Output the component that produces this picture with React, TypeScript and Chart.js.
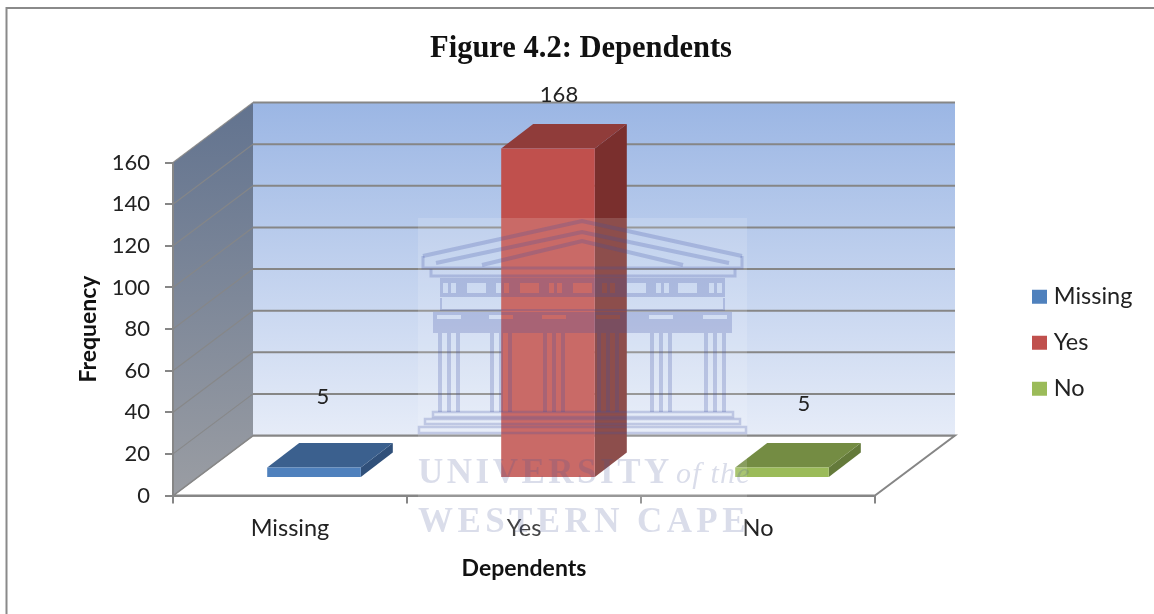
import React, { useEffect, useRef } from "react";
import { Chart, registerables } from "chart.js";

Chart.register(...registerables);

const categories = ["Missing", "Yes", "No"];
const frequencies = [5, 168, 5];
const yTicksMax = 160;
const yTickStep = 20;
const frontColors = ["#4F81BD", "#C0504D", "#9BBB59"];
const topColors = ["#3B608E", "#903C3A", "#748C43"];
const sideColors = ["#30507A", "#7A2F2D", "#647A3A"];
const chartTitle = "Figure 4.2: Dependents";
const xTitle = "Dependents";
const yTitle = "Frequency";

const GRAY = "#868686";
const WALL = { dx: 80, dy: -60 };
const BAR_SHIFT = { x: 24, y: -17.5 };
const BAR_DEPTH = { x: 32, y: -24.5 };
const TOP_CLIP = 3.5;
const LABEL_NUDGE = [
  { x: 9, y: 397 },
  { x: 11, y: 95 },
  { x: 22, y: 404 },
];

const poly = (ctx: CanvasRenderingContext2D, pts: number[][], fill?: any, stroke?: string, lw = 1) => {
  ctx.beginPath();
  pts.forEach((p, i) => (i ? ctx.lineTo(p[0], p[1]) : ctx.moveTo(p[0], p[1])));
  ctx.closePath();
  if (fill) {
    ctx.fillStyle = fill;
    ctx.fill();
  }
  if (stroke) {
    ctx.strokeStyle = stroke;
    ctx.lineWidth = lw;
    ctx.stroke();
  }
};

const scenePlugin = {
  id: "scene",
  beforeLayout(chart: any) {
    const lg = chart.legend;
    if (lg && !lg.__fixed) {
      lg.__fixed = true;
      const fit = lg.fit.bind(lg);
      lg.fit = () => {
        fit();
        lg.width = 279;
      };
    }
  },
  afterLayout(chart: any) {
    const lg = chart.legend;
    lg.left = 1014.5;
    lg.right = 1154;
    lg.top = 262.5;
    lg.bottom = 440;
    const tb = chart.titleBlock;
    tb.left += 8;
    tb.top += 2;
    tb.bottom += 2;
  },
  beforeDraw(chart: any) {
    const { ctx, chartArea: a, scales } = chart;
    const y = scales.y;
    ctx.save();
    // image frame
    ctx.fillStyle = "#fff";
    ctx.fillRect(0, 0, chart.width, chart.height);
    ctx.strokeStyle = "#8a8a8a";
    ctx.lineWidth = 2;
    ctx.beginPath();
    ctx.moveTo(6.5, chart.height);
    ctx.lineTo(6.5, 8);
    ctx.lineTo(chart.width, 8);
    ctx.stroke();

    const L = a.left, R = a.right, T = a.top, B = a.bottom;
    const { dx, dy } = WALL;
    // floor
    poly(ctx, [[L, B], [L + dx, B + dy], [R + dx, B + dy], [R, B]], "#fff", GRAY, 2);
    // back wall
    const g = ctx.createLinearGradient(0, T + dy, 0, B + dy);
    g.addColorStop(0, "#9BB6E4");
    g.addColorStop(1, "#E6ECF8");
    ctx.fillStyle = g;
    ctx.fillRect(L + dx, T + dy, R - L, B - T);
    // side wall
    const s = ctx.createLinearGradient(0, T + dy, 0, B);
    s.addColorStop(0, "#62738F");
    s.addColorStop(1, "#9A9DA3");
    poly(ctx, [[L, T], [L + dx, T + dy], [L + dx, B + dy], [L, B]], s);
    // grid lines through the value scale
    y.ticks.forEach((t: any) => {
      const py = y.getPixelForValue(t.value);
      ctx.strokeStyle = "rgba(134,134,134,0.9)";
      ctx.lineWidth = 1.2;
      ctx.beginPath();
      ctx.moveTo(L, py);
      ctx.lineTo(L + dx, py + dy);
      ctx.stroke();
      ctx.strokeStyle = GRAY;
      ctx.lineWidth = 2;
      ctx.beginPath();
      ctx.moveTo(L + dx, py + dy);
      ctx.lineTo(R + dx, py + dy);
      ctx.stroke();
    });
    ctx.restore();
  },
  beforeDatasetDraw(chart: any, args: any) {
    const { ctx, chartArea: a } = chart;
    const meta = args.meta;
    ctx.save();
    const topLimit = a.top + TOP_CLIP;
    meta.data.forEach((el: any, i: number) => {
      const p = el.getProps(["x", "y", "base", "width"], true);
      const x0 = p.x - p.width / 2 + BAR_SHIFT.x;
      const x1 = p.x + p.width / 2 + BAR_SHIFT.x;
      const yt = Math.max(p.y, topLimit) + BAR_SHIFT.y;
      const yb = p.base + BAR_SHIFT.y;
      const d = BAR_DEPTH;
      poly(ctx, [[x1, yt], [x1 + d.x, yt + d.y], [x1 + d.x, yb + d.y], [x1, yb]], sideColors[i]);
      poly(ctx, [[x0, yt], [x0 + d.x, yt + d.y], [x1 + d.x, yt + d.y], [x1, yt]], topColors[i]);
    });
    ctx.restore();
    ctx.save();
    ctx.translate(BAR_SHIFT.x, BAR_SHIFT.y);
  },
  afterDatasetDraw(chart: any) {
    chart.ctx.restore();
  },
  afterDraw(chart: any) {
    const { ctx } = chart;
    const meta = chart.getDatasetMeta(0);
    ctx.save();
    // value labels
    ctx.font = "22px Lato";
    ctx.fillStyle = "#222";
    ctx.textAlign = "center";
    ctx.textBaseline = "middle";
    meta.data.forEach((el: any, i: number) => {
      ctx.fillText(String(frequencies[i]), el.x + BAR_SHIFT.x + LABEL_NUDGE[i].x, LABEL_NUDGE[i].y);
    });

    // university watermark
    ctx.fillStyle = "rgba(255,255,255,0.15)";
    ctx.fillRect(418, 218, 329, 322);
    const ink = "rgba(62,78,165,0.24)";
    ctx.strokeStyle = ink;
    ctx.fillStyle = ink;
    const band = (pts: number[][], lw: number) => {
      ctx.lineWidth = lw;
      ctx.beginPath();
      pts.forEach((p, i) => (i ? ctx.lineTo(p[0], p[1]) : ctx.moveTo(p[0], p[1])));
      ctx.stroke();
    };
    const holes = (x: number, y: number, w: number, h: number, rects: number[][]) => {
      ctx.beginPath();
      ctx.rect(x, y, w, h);
      rects.forEach((r) => ctx.rect(r[0], r[1], r[2], r[3]));
      ctx.fill("evenodd");
    };
    // pediment
    band([[423, 256], [582, 221], [742, 256]], 4);
    band([[436, 263], [582, 232], [729, 263]], 4);
    band([[482, 265], [582, 241], [683, 265]], 4);
    band([[423, 256], [423, 268], [742, 268], [742, 256]], 3);
    band([[431, 269], [431, 276], [735, 276], [735, 269]], 3);
    // frieze with windows and triglyphs
    const frieze: number[][] = [];
    [467, 520, 573, 627, 678].forEach((x) => frieze.push([x, 283, 19, 10]));
    [443, 451, 496, 504, 549, 557, 602, 610, 656, 664, 709, 717].forEach((x) => frieze.push([x, 283, 5, 10]));
    holes(440, 278, 285, 19, frieze);
    band([[441, 298], [441, 310], [724, 310], [724, 298]], 2);
    // capitals
    const caps: number[][] = [];
    [449, 501, 554, 608, 661, 715].forEach((cx) => caps.push([cx - 12, 315, 24, 4]));
    holes(433, 312, 299, 21, caps);
    // columns
    [449, 501, 554, 608, 661, 715].forEach((cx) => {
      [-9, 0, 9].forEach((o) => ctx.fillRect(cx + o - 2, 333, 4, 79));
    });
    // steps
    ctx.lineWidth = 2.5;
    ctx.strokeRect(433, 412, 300, 5);
    ctx.strokeRect(425, 419, 315, 5);
    ctx.strokeRect(419, 427, 327, 6);

    ctx.textAlign = "left";
    ctx.textBaseline = "alphabetic";
    ctx.fillStyle = "rgba(72,84,150,0.2)";
    (ctx as any).letterSpacing = "3.5px";
    ctx.font = "bold 35px 'Liberation Serif'";
    ctx.fillText("UNIVERSITY", 418, 483);
    (ctx as any).letterSpacing = "1.2px";
    ctx.font = "italic 30px 'Liberation Serif'";
    ctx.fillText("of the", 676, 483);
    (ctx as any).letterSpacing = "4.4px";
    ctx.font = "bold 35px 'Liberation Serif'";
    ctx.fillText("WESTERN CAPE", 418, 532);
    ctx.restore();
  },
};

export default function App() {
  const ref = useRef<HTMLCanvasElement>(null);
  useEffect(() => {
    document.body.style.margin = "0";
    const chart = new Chart(ref.current as HTMLCanvasElement, {
      type: "bar",
      data: {
        labels: categories,
        datasets: [
          {
            label: yTitle,
            data: frequencies,
            backgroundColor: frontColors,
            borderWidth: 0,
            categoryPercentage: 1,
            barPercentage: 0.4,
            clip: { left: false, right: false, bottom: false, top: -TOP_CLIP },
          } as any,
        ],
      },
      options: {
        animation: false,
        responsive: false,
        layout: { padding: 0 },
        plugins: {
          tooltip: { enabled: false },
          title: {
            display: true,
            text: chartTitle,
            color: "#111",
            font: { family: "'Liberation Serif'", weight: "bold", size: 30.5 },
            padding: { top: 29, bottom: 97 },
          },
          legend: {
            position: "right",
            align: "start",
            labels: {
              color: "#222",
              font: { family: "Lato", size: 23.5 },
              boxWidth: 5,
              boxHeight: 4,
              padding: 22.5,
              generateLabels: () =>
                categories.map((c, i) => ({
                  text: c,
                  fillStyle: frontColors[i],
                  strokeStyle: frontColors[i],
                  lineWidth: 10,
                  lineCap: "butt",
                  lineJoin: "miter",
                  hidden: false,
                  index: i,
                  fontColor: "#222",
                })) as any,
            },
          },
        },
        scales: {
          x: {
            afterFit: (s: any) => {
              s.height = 118.5;
            },
            grid: { drawOnChartArea: false, drawTicks: true, tickLength: 8, color: GRAY, lineWidth: 2 },
            border: { color: GRAY, width: 2 },
            ticks: { color: "#222", font: { family: "Lato", size: 23.5 }, padding: 11, maxRotation: 0 },
            title: {
              display: true,
              text: xTitle,
              color: "#111",
              font: { family: "Lato", size: 23, weight: "bold" },
              padding: { top: 0, bottom: 32 },
            },
          },
          y: {
            min: 0,
            max: yTicksMax,
            afterFit: (s: any) => {
              s.width = 173;
            },
            grid: { drawOnChartArea: false, drawTicks: true, tickLength: 8, color: GRAY, lineWidth: 2 },
            border: { color: GRAY, width: 2 },
            ticks: { stepSize: yTickStep, color: "#222", font: { family: "Lato", size: 22 }, padding: 15 },
            title: {
              display: true,
              text: yTitle,
              color: "#111",
              font: { family: "Lato", size: 23, weight: "bold" },
              padding: { top: 75, bottom: 0 },
            },
          },
        },
      },
      plugins: [scenePlugin],
    } as any);
    return () => chart.destroy();
  }, []);
  return <canvas ref={ref} width={1154} height={614} style={{ display: "block", width: 1154, height: 614 }} />;
}
